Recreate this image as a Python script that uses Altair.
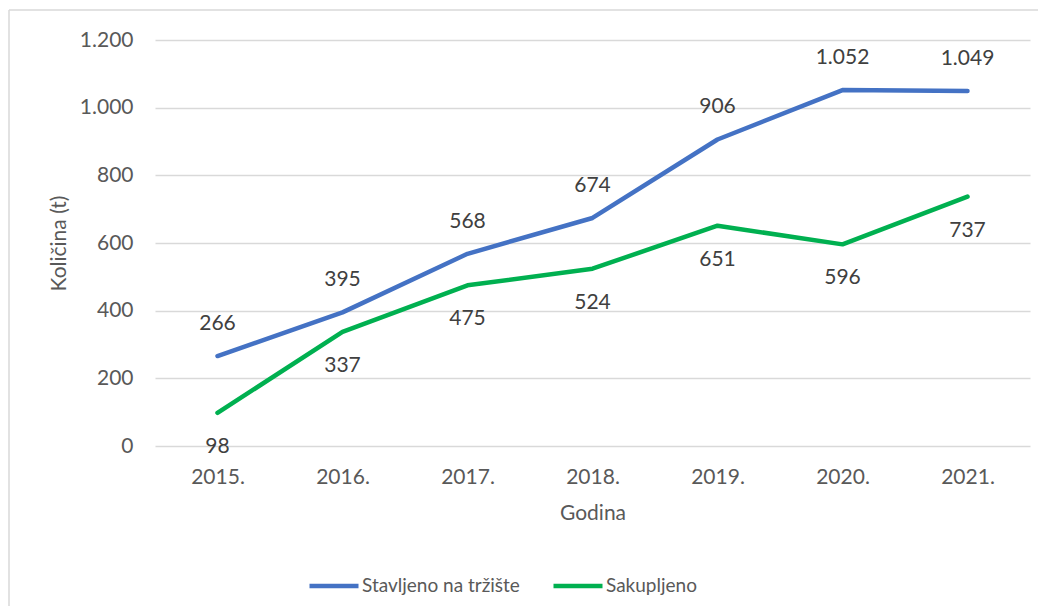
import altair as alt
import pandas as pd

years = ["2015.", "2016.", "2017.", "2018.", "2019.", "2020.", "2021."]
stavljeno = [266, 395, 568, 674, 906, 1052, 1049]
sakupljeno = [98, 337, 475, 524, 651, 596, 737]
series_names = ["Stavljeno na tržište", "Sakupljeno"]
series_colors = ["#4472C4", "#00B050"]
y_ticks = [0, 200, 400, 600, 800, 1000, 1200]

rows = []
for name, vals in zip(series_names, [stavljeno, sakupljeno]):
    for y, v in zip(years, vals):
        rows.append({"Godina": y, "Serija": name, "Vrijednost": v})
df = pd.DataFrame(rows)

FONT = "Lato"
GREY = "#595959"
GRID = "#d9d9d9"

x_enc = alt.X("Godina:O", sort=years,
              axis=alt.Axis(title="Godina", labelAngle=0, domain=False, ticks=False,
                            labelPadding=20, titlePadding=15))
y_enc = alt.Y("Vrijednost:Q", scale=alt.Scale(domain=[0, 1200], nice=False),
              axis=alt.Axis(title="Količina (t)", values=y_ticks, format=",.0f",
                            domain=False, ticks=False, labelPadding=22, titlePadding=10,
                            grid=True))

base = alt.Chart(df)

lines = base.mark_line(strokeWidth=4.5, strokeCap="round", strokeJoin="round").encode(
    x=x_enc,
    y=y_enc,
    color=alt.Color("Serija:N", sort=series_names,
                    scale=alt.Scale(domain=series_names, range=series_colors),
                    legend=alt.Legend(title=None, orient="none", direction="horizontal",
                                      legendX=152, legendY=519)),
)

labels_top = base.transform_filter(alt.datum.Serija == series_names[0]).mark_text(
    dy=-32, fontSize=21, font=FONT, color="#404040", baseline="middle"
).encode(x=alt.X("Godina:O", sort=years), y="Vrijednost:Q",
         text=alt.Text("Vrijednost:Q", format=",.0f"))

labels_bot = base.transform_filter(alt.datum.Serija == series_names[1]).mark_text(
    dy=34, fontSize=21, font=FONT, color="#404040", baseline="middle"
).encode(x=alt.X("Godina:O", sort=years), y="Vrijednost:Q",
         text=alt.Text("Vrijednost:Q", format=",.0f"))

frame_df = pd.DataFrame({"k": [0]})
frame_left = alt.Chart(frame_df).mark_rule(color=GRID, strokeWidth=1.5, clip=False).encode(
    x=alt.value(-146), y=alt.value(-30), y2=alt.value(620))
frame_top = alt.Chart(frame_df).mark_rule(color=GRID, strokeWidth=1.5, clip=False).encode(
    x=alt.value(-146), x2=alt.value(900), y=alt.value(-30))

chart = alt.layer(frame_left, frame_top, lines, labels_top, labels_bot).properties(
    width=875, height=406,
    autosize=alt.AutoSizeParams(type="none"),
    padding={"left": 147, "top": 32, "right": 8, "bottom": 160},
).configure(
    locale={"number": {"decimal": ",", "thousands": ".", "grouping": [3], "currency": ["", ""]}},
).configure_view(stroke=None).configure_axis(
    labelFont=FONT, titleFont=FONT, labelFontSize=21, titleFontSize=21,
    labelColor=GREY, titleColor=GREY, titleFontWeight="normal",
    gridColor=GRID, gridWidth=1.5,
).configure_legend(
    labelFont=FONT, labelFontSize=19, labelColor=GREY, symbolType="stroke",
    symbolSize=2401, symbolStrokeWidth=4.5, labelOffset=1, columnPadding=24,
    padding=0, labelLimit=400,
)

chart.save("out.html", embed_options={"renderer": "svg", "actions": False})
